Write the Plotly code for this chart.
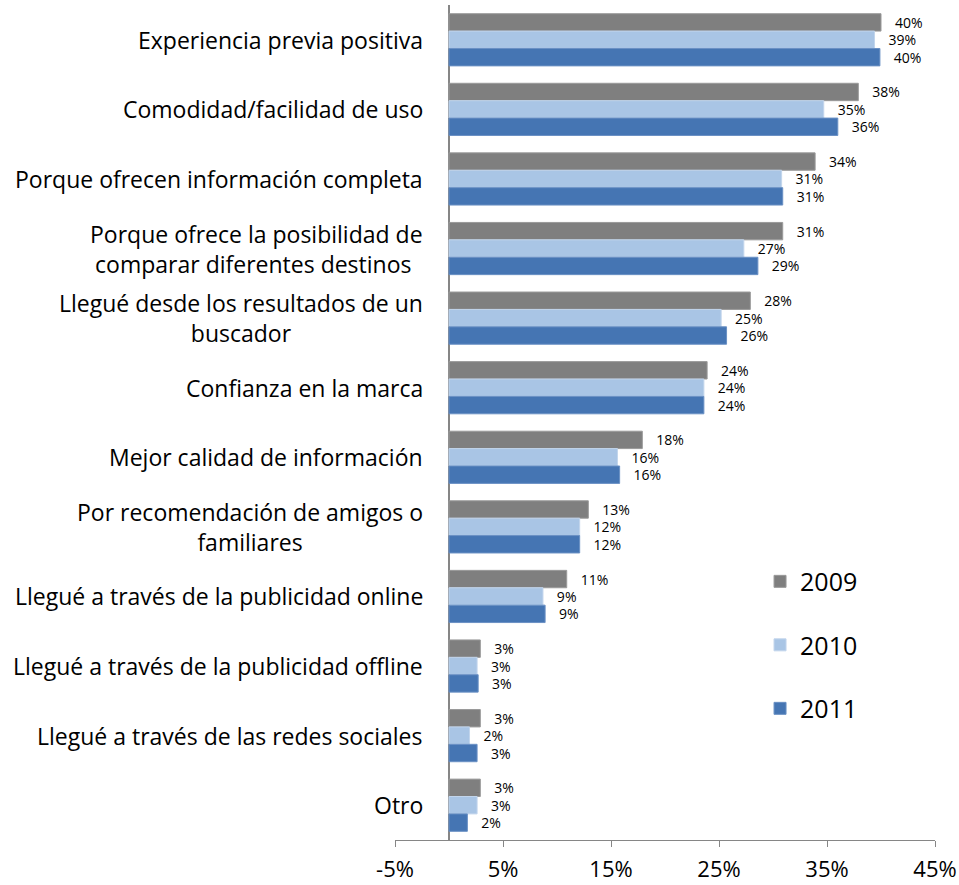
import plotly.graph_objects as go

# Motivos de elección (share of respondents), ordered top to bottom
categories = [
    "Experiencia previa positiva",
    "Comodidad/facilidad de uso",
    "Porque ofrecen información completa",
    "Porque ofrece la posibilidad de<br>comparar diferentes destinos ",
    "Llegué desde los resultados de un<br>buscador",
    "Confianza en la marca",
    "Mejor calidad de información",
    "Por recomendación de amigos o<br>familiares",
    "Llegué a través de la publicidad online",
    "Llegué a través de la publicidad offline",
    "Llegué a través de las redes sociales",
    "Otro",
]

years = ["2009", "2010", "2011"]

values_2009 = [0.400, 0.379, 0.339, 0.309, 0.279, 0.239, 0.179, 0.129, 0.109, 0.029, 0.029, 0.029]
values_2010 = [0.394, 0.347, 0.308, 0.273, 0.252, 0.236, 0.156, 0.121, 0.087, 0.026, 0.019, 0.026]
values_2011 = [0.399, 0.360, 0.309, 0.286, 0.257, 0.236, 0.158, 0.121, 0.089, 0.027, 0.026, 0.017]

x_tick_values = [-0.05, 0.05, 0.15, 0.25, 0.35, 0.45]
x_tick_labels = ["-5%", "5%", "15%", "25%", "35%", "45%"]

series = [values_2009, values_2010, values_2011]
colors = ["#7F7F7F", "#A9C5E5", "#4575B3"]
edge_colors = ["#9A9A9A", "#C2D5EC", "#6A90C4"]

FONT = "'Open Sans', 'Noto Sans', sans-serif"

fig = go.Figure()
for name, vals, col, edge in zip(years, series, colors, edge_colors):
    fig.add_trace(go.Bar(
        name=name,
        y=categories,
        x=vals,
        orientation="h",
        marker=dict(color=col, line=dict(color=edge, width=1)),
        texttemplate="\u00a0\u00a0\u00a0%{x:.0%}",
        textposition="outside",
        constraintext="none",
        cliponaxis=False,
        textfont=dict(size=14, color="#000000", family=FONT),
        legendgroup=name,
    ))

# Centered multi-line category labels, right-aligned against the zero line
for cat in categories:
    fig.add_annotation(
        x=0, xref="x", y=cat, yref="y",
        text=cat, showarrow=False,
        xanchor="right", yanchor="middle", align="center",
        xshift=-24,
        font=dict(size=23, color="#000000", family=FONT),
    )

fig.update_layout(
    width=959, height=885,
    margin=dict(l=395, r=24, t=5, b=45, autoexpand=False),
    paper_bgcolor="white",
    plot_bgcolor="white",
    barmode="group",
    bargap=0.25,
    bargroupgap=0,
    showlegend=True,
    legend=dict(
        x=0.676, y=0.337, xanchor="left", yanchor="top",
        font=dict(size=25, color="#000000", family=FONT),
        tracegroupgap=28,
        bgcolor="rgba(0,0,0,0)",
    ),
    font=dict(family=FONT, color="#000000"),
)

fig.update_xaxes(
    range=[-0.05, 0.45],
    tickvals=x_tick_values,
    ticktext=x_tick_labels,
    automargin=False,
    showgrid=False,
    showline=True, linecolor="#868686", linewidth=1,
    ticks="outside", ticklen=6, tickcolor="#868686",
    ticklabelstandoff=4,
    zeroline=True, zerolinecolor="#868686", zerolinewidth=2,
    tickfont=dict(size=22, color="#000000", family=FONT),
)
fig.update_yaxes(
    autorange="reversed",
    automargin=False,
    showticklabels=False,
    showgrid=False,
    showline=False,
    ticks="",
)

fig.write_html("out.html")
